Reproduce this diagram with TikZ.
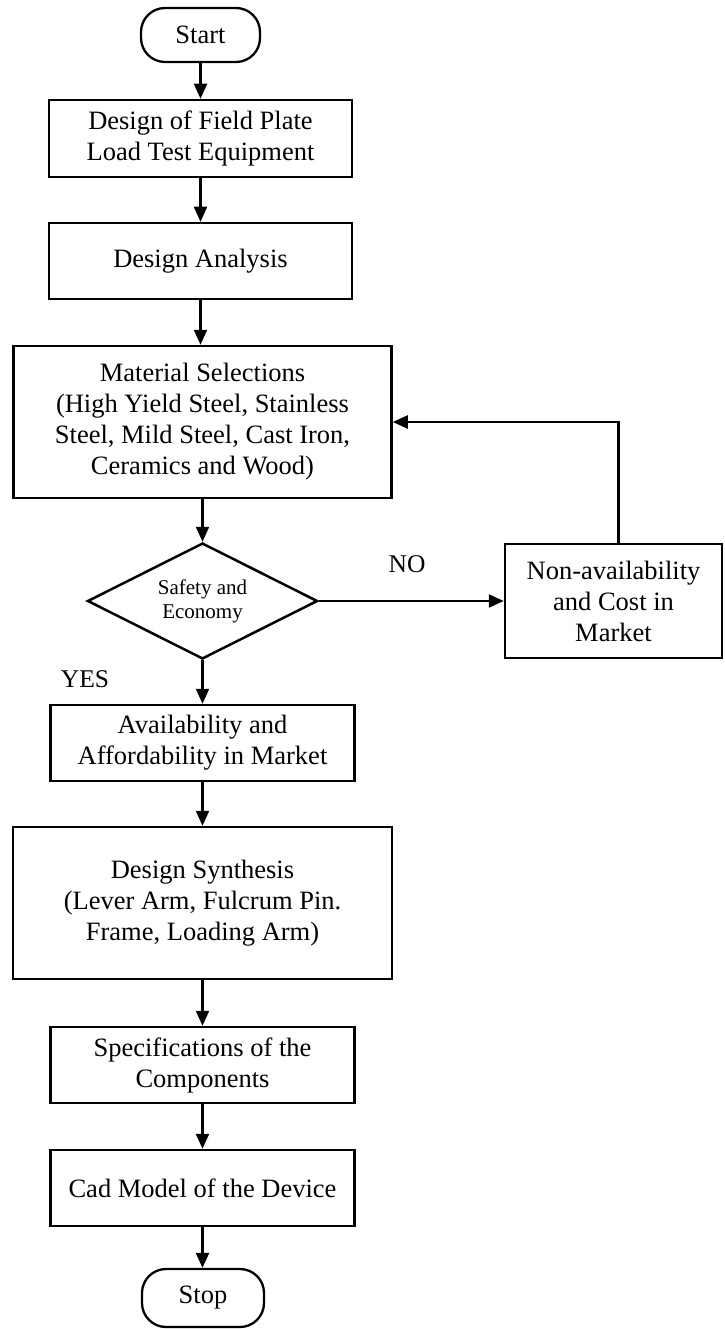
\documentclass[tikz,border=0pt]{standalone}
\usepackage{fontspec}
\setmainfont{Liberation Serif}
\usetikzlibrary{arrows.meta,shapes.geometric}
\begin{document}
\begin{tikzpicture}[x=1pt,y=-1pt,
  every node/.style={font=\fontsize{26.5}{31}\selectfont},
  procbox/.style={draw,line width=2.5pt,rectangle,align=center,inner sep=0pt},
  term/.style={draw,line width=2.3pt,rectangle,rounded corners=24pt,inner sep=0pt},
  decision/.style={draw,line width=2.5pt,diamond,aspect=1.98,inner sep=0pt,align=center,
    font=\fontsize{21}{24}\selectfont},
  lbl/.style={inner sep=0pt,font=\fontsize{25.5}{30}\selectfont},
  arr/.style={line width=2.2pt,-{Triangle[length=15pt,width=13pt]}}]
\useasboundingbox (0,0) rectangle (724,1329);

\node[term,minimum width=119pt,minimum height=54pt] (start) at (200.5,35) {Start};
\node[procbox,minimum width=303pt,minimum height=77pt] (b1) at (200.5,138.5) {Design of Field Plate\\Load Test Equipment};
\node[procbox,minimum width=303pt,minimum height=76pt] (b2) at (200.5,261) {Design Analysis};
\node[procbox,minimum width=378pt,minimum height=152pt] (mat) at (202.5,422) {Material Selections\\(High Yield Steel, Stainless\\Steel, Mild Steel, Cast Iron,\\Ceramics and Wood)};
\node[decision,minimum width=230pt,minimum height=116pt] (dec) at (202.5,601) {Safety and\\Economy};
\node[procbox,minimum width=217pt,minimum height=114pt] (non) at (613.5,601) {Non-availability\\and Cost in\\Market};
\node[procbox,minimum width=304pt,minimum height=76pt] (av) at (202.5,743) {Availability and\\Affordability in Market};
\node[procbox,minimum width=379pt,minimum height=152pt] (syn) at (202.5,903) {Design Synthesis\\(Lever Arm, Fulcrum Pin.\\Frame, Loading Arm)};
\node[procbox,minimum width=304pt,minimum height=76pt] (spec) at (202.5,1065) {Specifications of the\\Components};
\node[procbox,minimum width=304pt,minimum height=76pt] (cad) at (202.5,1188) {Cad Model of the Device};
\node[term,minimum width=122pt,minimum height=58pt] (stop) at (203,1298) {Stop};

\node[lbl] (no) at (407,564) {NO};
\node[lbl] (yes) at (85,679) {YES};

\draw[arr] (start.south) -- (start.south |- b1.north);
\draw[arr] (b1.south) -- (b1.south |- b2.north);
\draw[arr] (b2.south) -- (b2.south |- mat.north);
\draw[arr] (mat.south) -- (mat.south |- dec.north);
\draw[arr] (dec.east) -- (non.west);
\draw[arr] ([xshift=5pt]non.north) |- (mat.east);
\draw[arr] (dec.south) -- (dec.south |- av.north);
\draw[arr] (av.south) -- (av.south |- syn.north);
\draw[arr] (syn.south) -- (syn.south |- spec.north);
\draw[arr] (spec.south) -- (spec.south |- cad.north);
\draw[arr] (cad.south) -- (cad.south |- stop.north);
\end{tikzpicture}
\end{document}
